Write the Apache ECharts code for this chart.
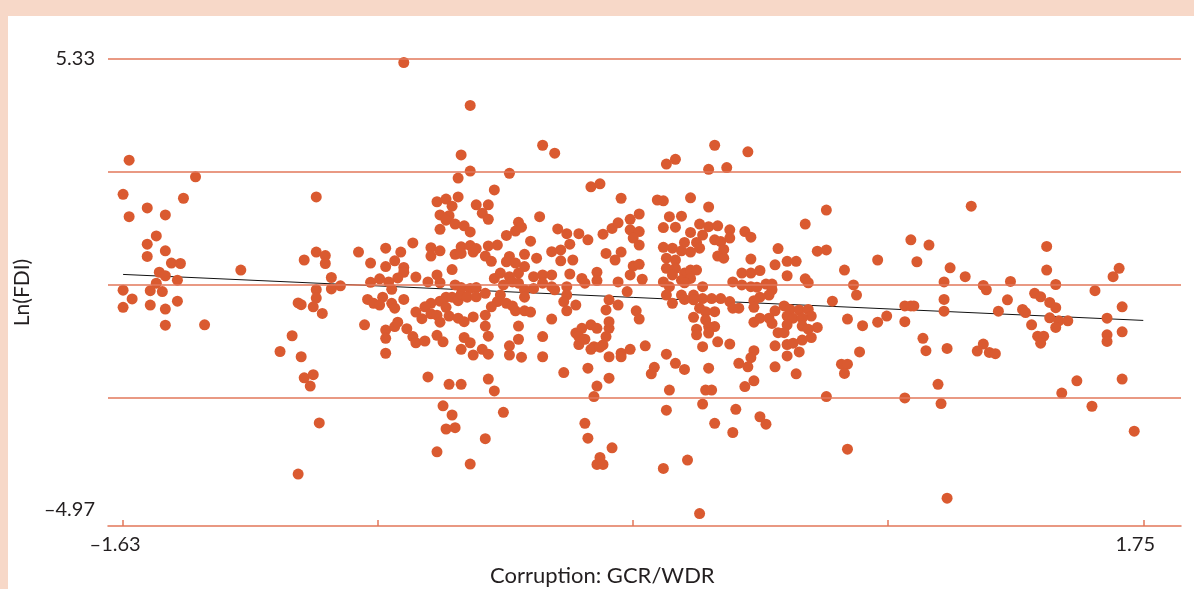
<!DOCTYPE html>
<html>
<head>
<meta charset="utf-8">
<script src="https://cdn.jsdelivr.net/npm/echarts@6/dist/echarts.min.js"></script>
<style>
html, body { margin: 0; padding: 0; width: 1194px; height: 589px; overflow: hidden; background: #f7d8c8; }
#frame { position: absolute; left: 8px; top: 16px; right: 0; bottom: 0; background: #fff; }
#chart { position: absolute; left: 0; top: 0; width: 1194px; height: 589px; }
</style>
</head>
<body>
<div id="frame"></div>
<div id="chart"></div>
<script>
// axis labels / ticks
const xTickValues = [-1.63, -0.785, 0.06, 0.905, 1.75];
const xLabelValues = [-1.63, 1.75];
const yLabelValues = [5.33, -4.97];
const gridValues = [5.33, 2.755, 0.18, -2.395];

// fitted line (start, end)
const fitLine = [[-1.63, 0.41], [1.75, -0.64]];

// points, grouped by x band  [corruption, ln(FDI)]
const pointsWest = [
  [-1.61,3.02],[-1.39,2.64],[-1.63,2.24],[-1.43,2.15],[-1.55,1.93],[-1.61,1.73],[-1.49,1.77],[-1.52,1.29],[-1.55,1.10],[-1.49,0.95],
  [-1.55,0.82],[-1.47,0.67],[-1.44,0.66],[-1.24,0.51],[-1.51,0.46],[-1.49,0.38],[-1.45,0.28],[-1.52,0.21],[-1.63,0.05],[-1.54,0.04],
  [-1.50,0.02],[-1.60,-0.15],[-1.45,-0.20],[-1.63,-0.34],[-1.54,-0.29],[-1.49,-0.38],[-1.49,-0.75],[-1.36,-0.74],[-1.05,-0.24],[-1.07,-0.99],
  [-1.11,-1.35],[-1.05,-4.15],[-1.03,0.74],[-1.04,-0.28],[-1.04,-1.47],[-1.03,-1.95],[-1.01,-2.14],[-1.00,-1.88],[-0.98,-2.98],[-0.99,2.18],
  [-0.99,0.92],[-0.96,0.84],[-0.96,0.66],[-0.94,0.34],[-0.94,0.08],[-0.91,0.15],[-0.99,0.06],[-0.99,-0.13],[-1.00,-0.33],[-0.97,-0.48]
];
const pointsCenterWest = [
  [-0.70,5.25],[-0.48,4.27],[-0.51,3.14],[-0.48,2.77],[-0.52,2.61],[-0.59,2.07],[-0.56,2.13],[-0.52,2.18],[-0.54,1.97],[-0.46,2.00],
  [-0.58,1.77],[-0.55,1.75],[-0.56,1.65],[-0.53,1.56],[-0.58,1.44],[-0.50,1.52],[-0.48,1.38],
  [-0.85,0.92],[-0.81,0.67],[-0.76,1.01],[-0.71,0.92],[-0.67,1.13],[-0.61,1.02],[-0.61,0.83],[-0.58,0.95],[-0.53,0.87],[-0.51,1.04],
  [-0.51,0.89],[-0.48,1.07],[-0.47,0.92],[-0.46,1.00],
  [-0.73,0.72],[-0.76,0.59],[-0.70,0.57],[-0.70,0.46],[-0.72,0.33],[-0.66,0.35],[-0.54,0.52],[-0.59,0.40],[-0.62,0.24],[-0.58,0.22],
  [-0.81,0.23],[-0.78,0.31],[-0.75,0.24],[-0.74,0.07],[-0.53,0.17],[-0.51,0.11],[-0.48,0.09],[-0.46,0.11],
  [-0.82,-0.16],[-0.80,-0.25],[-0.77,-0.11],[-0.78,-0.29],[-0.74,-0.25],[-0.73,-0.36],[-0.70,-0.16],[-0.56,-0.11],[-0.58,-0.20],[-0.61,-0.25],
  [-0.63,-0.33],[-0.66,-0.45],[-0.64,-0.60],[-0.61,-0.49],[-0.59,-0.52],[-0.58,-0.68],[-0.56,-0.34],[-0.55,-0.54],[-0.54,-0.11],[-0.52,-0.19],
  [-0.51,-0.04],[-0.49,-0.11],[-0.46,-0.10],[-0.52,-0.59],[-0.50,-0.67],[-0.47,-0.56],
  [-0.83,-0.74],[-0.76,-0.86],[-0.76,-1.05],[-0.73,-0.78],[-0.72,-0.68],[-0.69,-0.83],[-0.67,-1.01],[-0.66,-1.15],[-0.63,-1.11],[-0.59,-0.98],
  [-0.57,-1.13],[-0.50,-1.03],[-0.48,-1.15],[-0.51,-1.30],[-0.47,-1.43],[-0.76,-1.39],
  [-0.62,-1.93],[-0.55,-2.10],[-0.51,-2.10],[-0.57,-2.59],[-0.54,-2.80],[-0.56,-3.12],[-0.53,-3.09],[-0.59,-3.64],[-0.48,-3.92]
];
const pointsCenter = [
  [-0.24,3.36],[-0.20,3.18],[-0.35,2.72],[-0.40,2.34],[-0.42,2.00],[-0.44,1.81],[-0.42,1.67],[-0.08,2.41],[-0.05,2.48],[0.02,2.15],[0.14,2.11],
  [-0.25,1.73],[-0.32,1.60],[-0.31,1.49],[-0.33,1.40],[-0.36,1.30],[-0.19,1.45],[-0.16,1.34],[-0.12,1.34],[-0.09,1.20],[-0.28,1.17],
  [-0.39,1.08],[-0.42,1.06],[-0.43,0.83],[-0.41,0.71],
  [-0.04,1.33],[-0.01,1.46],[0.01,1.59],[0.05,1.67],[0.08,1.79],[0.05,1.43],[0.08,1.39],[0.06,1.24],[0.08,1.08],
  [-0.15,1.10],[-0.18,0.97],[-0.21,0.93],[-0.18,0.72],[-0.14,0.74],[-0.03,0.89],[0.02,0.92],[0.00,0.74],[-0.30,0.87],[-0.26,0.78],
  [-0.35,0.82],[-0.36,0.70],[-0.33,0.67],[-0.30,0.59],[-0.32,0.44],
  [0.06,0.60],[0.08,0.64],[0.05,0.40],[0.09,0.30],[-0.06,0.46],[-0.06,0.27],[-0.11,0.32],[-0.10,0.21],[-0.15,0.42],[-0.21,0.40],
  [-0.24,0.40],[-0.27,0.36],[-0.40,0.32],[-0.38,0.44],[-0.35,0.36],[-0.34,0.24],[-0.37,0.17],[-0.32,0.21],[-0.24,0.21],[-0.21,0.13],
  [-0.20,0.06],[-0.16,0.13],[-0.16,-0.06],[-0.27,0.09],[-0.30,0.06],[-0.30,-0.11],
  [-0.43,-0.02],[-0.38,-0.06],[-0.39,-0.21],[-0.36,-0.25],[-0.34,-0.31],[-0.41,-0.33],[-0.43,-0.52],[-0.33,-0.42],[-0.30,-0.42],[-0.28,-0.45],
  [-0.17,-0.21],[-0.16,-0.42],[-0.13,-0.29],[0.01,-0.29],[-0.02,-0.17],[-0.03,-0.40],[0.01,0.24],[0.04,0.02],[0.07,-0.42],[0.08,-0.61],[-0.21,-0.61],
  [-0.32,-0.77],[-0.43,-0.77],[-0.42,-1.00],[-0.24,-1.01],[-0.32,-1.07],[-0.35,-1.22],[-0.44,-1.30],[-0.42,-1.41],[-0.35,-1.43],[-0.31,-1.48],[-0.24,-1.47],
  [-0.13,-0.93],[-0.11,-0.82],[-0.08,-0.74],[-0.06,-0.82],[-0.02,-0.82],[-0.02,-0.67],[-0.03,-1.01],[-0.04,-1.20],[-0.07,-1.24],[-0.12,-1.19],
  [-0.10,-1.07],[-0.12,-1.01],[-0.08,-1.30],[-0.05,-1.25],[-0.02,-1.47],[0.02,-1.39],[0.02,-1.47],[0.05,-1.30],[0.10,-1.22],
  [-0.17,-1.83],[-0.09,-1.73],[-0.02,-1.96],[-0.06,-2.14],[-0.07,-2.38],[0.13,-1.71],[0.12,-1.86],
  [-0.42,-1.98],[-0.40,-2.25],[-0.37,-2.74],[-0.43,-3.34],[-0.10,-2.99],[-0.09,-3.33],[-0.01,-3.55],[-0.05,-3.77],[-0.06,-3.93],[-0.04,-3.93]
];
const pointsCenterEast = [
  [0.33,3.36],[0.44,3.21],[0.17,2.93],[0.20,3.04],[0.31,2.81],[0.37,2.85],[0.16,2.09],[0.25,2.16],[0.31,1.95],[0.70,1.88],[0.63,1.56],
  [0.18,1.73],[0.22,1.74],[0.16,1.48],[0.20,1.49],[0.28,1.56],[0.31,1.50],[0.34,1.52],[0.38,1.43],[0.43,1.39],[0.45,1.26],
  [0.25,1.37],[0.29,1.31],[0.33,1.20],[0.38,1.24],[0.35,1.16],[0.27,1.14],[0.23,1.14],[0.19,1.01],[0.16,1.03],[0.28,1.01],
  [0.25,0.92],[0.22,0.95],[0.36,0.98],[0.34,0.83],[0.36,0.78],[0.45,0.76],
  [0.54,1.00],[0.53,0.63],[0.57,0.71],[0.60,0.71],[0.57,0.38],[0.67,0.94],[0.70,0.97],[0.63,0.31],[0.64,0.22],
  [0.17,0.78],[0.20,0.74],[0.17,0.55],[0.20,0.55],[0.23,0.44],[0.25,0.51],[0.27,0.51],[0.25,0.32],[0.22,0.28],[0.19,0.40],
  [0.16,0.24],[0.18,0.13],[0.23,0.22],[0.29,0.13],
  [0.42,0.44],[0.45,0.44],[0.48,0.50],[0.39,0.24],[0.42,0.17],[0.45,0.13],[0.47,0.12],[0.50,0.19],[0.52,0.19],[0.52,0.06],
  [0.51,-0.06],[0.48,-0.11],[0.46,-0.19],[0.46,-0.34],[0.38,-0.21],[0.39,-0.36],[0.41,-0.36],[0.35,-0.14],[0.32,-0.14],[0.29,-0.14],
  [0.26,-0.06],[0.26,-0.17],[0.22,-0.06],[0.23,-0.16],[0.19,-0.25],[0.17,-0.06],[0.72,-0.20],
  [0.28,-0.36],[0.30,-0.44],[0.33,-0.44],[0.26,-0.57],[0.30,-0.63],[0.33,-0.78],[0.31,-0.78],[0.27,-0.84],[0.27,-0.97],[0.31,-0.93],
  [0.34,-1.13],[0.38,-1.18],[0.29,-1.24],
  [0.53,-0.42],[0.56,-0.31],[0.58,-0.39],[0.61,-0.40],[0.64,-0.39],[0.65,-0.54],[0.57,-0.54],[0.59,-0.59],[0.62,-0.59],[0.46,-0.68],
  [0.48,-0.59],[0.51,-0.59],[0.52,-0.71],[0.57,-0.74],[0.62,-0.77],[0.67,-0.80],[0.64,-0.84],[0.54,-0.92],[0.56,-0.92],[0.53,-1.22],
  [0.57,-1.19],[0.59,-1.16],[0.62,-1.09],[0.65,-1.03],
  [0.46,-1.33],[0.45,-1.49],[0.44,-1.70],[0.41,-1.62],[0.57,-1.45],[0.61,-1.36],[0.53,-1.70],[0.60,-1.86],
  [0.17,-1.41],[0.20,-1.62],[0.23,-1.76],[0.31,-1.73],[0.46,-2.02],[0.43,-2.15],[0.30,-2.23],[0.32,-2.23],[0.18,-2.23],[0.17,-2.69],
  [0.29,-2.55],[0.40,-2.67],[0.48,-2.84],[0.50,-3.01],[0.33,-2.99],[0.39,-3.20],[0.70,-2.38],[0.24,-3.83],[0.16,-4.02],[0.28,-5.05]
];
const pointsEast = [
  [1.18,1.97],[0.98,1.20],[1.04,1.08],[0.87,0.74],[1.00,0.70],[0.76,0.51],[1.11,0.56],[1.16,0.36],[1.09,0.24],[0.79,0.17],
  [0.80,-0.06],[1.22,0.16],[1.23,0.06],[1.31,0.25],[1.09,-0.16],[1.30,-0.17],[0.96,-0.31],[0.98,-0.31],[0.99,-0.31],[1.09,-0.43],
  [1.27,-0.43],[0.77,-0.61],[0.82,-0.76],[0.87,-0.68],[0.90,-0.54],[0.96,-0.67],[1.02,-1.05],[1.03,-1.33],[1.10,-1.28],[1.22,-1.18],
  [1.20,-1.34],[1.24,-1.37],[1.26,-1.40],[0.81,-1.36],[0.75,-1.64],[0.77,-1.64],[0.76,-1.85],[1.07,-2.10],[0.96,-2.41],[1.08,-2.54],
  [0.77,-3.58],[1.10,-4.70],
  [1.43,1.05],[1.43,0.51],[1.67,0.55],[1.65,0.36],[1.46,0.18],[1.59,0.04],[1.39,-0.02],[1.41,-0.10],[1.44,-0.23],[1.46,-0.35],
  [1.35,-0.39],[1.36,-0.46],[1.68,-0.33],[1.44,-0.58],[1.47,-0.65],[1.50,-0.65],[1.63,-0.59],[1.38,-0.74],[1.46,-0.80],[1.40,-1.00],
  [1.42,-1.00],[1.41,-1.16],[1.63,-0.97],[1.63,-1.12],[1.68,-0.90],[1.53,-2.02],[1.48,-2.30],[1.68,-1.98],[1.58,-2.60],[1.72,-3.17]
];

const allPoints = [].concat(pointsWest, pointsCenterWest, pointsCenter, pointsCenterEast, pointsEast);

// minus sign like the print version
function fmt(v) {
  return String(v).replace('-', '\u2013');
}

const textColor = '#231f20';
const ruleColor = '#e2775a';
const fontFamily = 'Lato, "Open Sans", sans-serif';

const chart = echarts.init(document.getElementById('chart'), null, { renderer: 'canvas' });
chart.setOption({
  animation: false,
  backgroundColor: 'transparent',
  textStyle: { fontFamily: fontFamily },
  grid: { left: 108, right: 13, top: 59, bottom: 63 },
  xAxis: {
    type: 'value',
    min: -1.68,
    max: 1.875,
    axisLine: { show: true, onZero: false, lineStyle: { color: ruleColor, width: 1.5 } },
    axisTick: { show: true, inside: true, length: 6, customValues: xTickValues, lineStyle: { color: ruleColor, width: 1.5 } },
    axisLabel: {
      customValues: xLabelValues, formatter: fmt, margin: 9, fontSize: 20,
      padding: [0, 16, 0, 0], color: textColor, fontFamily: fontFamily
    },
    splitLine: { show: false }
  },
  yAxis: {
    type: 'value',
    min: -5.335,
    max: 5.33,
    name: 'Ln(FDI)',
    nameLocation: 'middle',
    nameGap: 53,
    nameTextStyle: { fontSize: 21, color: textColor, fontFamily: fontFamily },
    axisLine: { show: false },
    axisTick: { show: false },
    axisLabel: { customValues: yLabelValues, formatter: fmt, margin: 13, fontSize: 20, color: textColor, fontFamily: fontFamily },
    splitLine: { show: false }
  },
  graphic: [{
    type: 'text',
    left: 490,
    top: 565,
    style: { text: 'Corruption: GCR/WDR', fontSize: 22, fill: textColor, fontFamily: fontFamily }
  }],
  series: [
    {
      type: 'line',
      data: fitLine,
      symbol: 'none',
      z: 1,
      lineStyle: { color: '#111', width: 1 },
      markLine: {
        silent: true,
        symbol: ['none', 'none'],
        label: { show: false },
        lineStyle: { color: ruleColor, width: 1.5, type: 'solid' },
        data: gridValues.map(v => ({ yAxis: v }))
      }
    },
    {
      type: 'scatter',
      data: allPoints,
      symbolSize: 11,
      clip: false,
      z: 3,
      itemStyle: { color: '#da5a30', opacity: 1 }
    }
  ]
});
</script>
</body>
</html>
